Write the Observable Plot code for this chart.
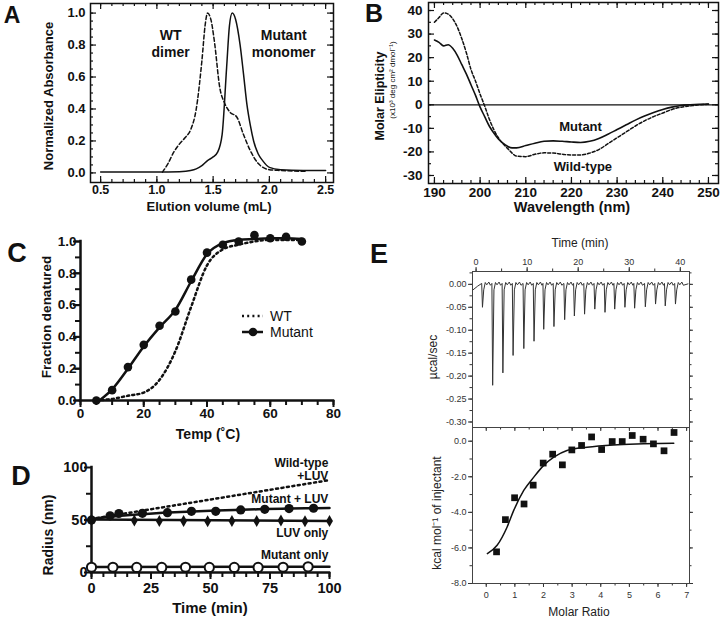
<!DOCTYPE html>
<html><head><meta charset="utf-8">
<script src="https://cdn.jsdelivr.net/npm/d3@7"></script>
<script src="https://cdn.jsdelivr.net/npm/@observablehq/plot@0.6"></script>
<style>
body{margin:0;background:#fff;}
#root{position:relative;width:720px;height:621px;overflow:hidden;background:#fff;}
.p{position:absolute;}
</style></head>
<body><div id="root"></div>
<script>
// ---------- Panel A: size-exclusion chromatography ----------
const aXTicks = [0.5, 1.0, 1.5, 2.0, 2.5];
const aYTicks = [0, 0.2, 0.4, 0.6, 0.8, 1.0];
const aVolMut = [0.5,1.0,1.2,1.3,1.35,1.4,1.45,1.5,1.54,1.58,1.62,1.645,1.67,1.7,1.74,1.77,1.8,1.83,1.86,1.9,1.94,2.0,2.1,2.3,2.5];
const aMut    = [0.005,0.005,0.008,0.015,0.025,0.045,0.077,0.1,0.13,0.24,0.66,0.92,1.0,0.96,0.8,0.62,0.43,0.3,0.2,0.12,0.077,0.035,0.02,0.015,0.015];
const aVolWT  = [1.05,1.1,1.15,1.2,1.25,1.3,1.35,1.4,1.43,1.45,1.48,1.51,1.56,1.6,1.65,1.71,1.77,1.83,1.9,2.0,2.1,2.33];
const aWT     = [0.005,0.06,0.13,0.18,0.22,0.27,0.4,0.7,0.93,1.0,0.96,0.83,0.53,0.44,0.38,0.35,0.24,0.14,0.06,0.02,0.015,0.01];

// ---------- Panel B: circular dichroism ----------
const bXTicks = [190, 200, 210, 220, 230, 240, 250];
const bYTicks = [40, 30, 20, 10, 0, -10, -20, -30];
const bWave = [190,191,192,193,194,195,196,197,198,199,200,201,202,203,204,205,206,207,208,210,212,214,216,218,220,222,224,226,228,230,232,234,236,238,240,242,244,246,248,250];
const bMut  = [27.5,26.5,25,25.5,24,21,17,13,8.5,4,-1,-5,-9,-12,-14.5,-16.3,-17.6,-18.3,-18.3,-17.3,-16.3,-15.5,-15.3,-15.5,-15.8,-16,-15.5,-14.3,-12.5,-10.5,-8.5,-6.5,-4.8,-3.3,-2,-1,-0.3,0,0.2,0.3];
const bWT   = [35,37,39,38.5,36.5,33,28,22,15,10,4.5,-0.5,-6,-10.5,-14,-16.5,-18.5,-20.5,-21.8,-22,-21,-20.4,-20.5,-21,-21.3,-21.3,-20.5,-19,-16.5,-14,-11.5,-9,-6.8,-5,-3.5,-2,-1,-0.5,0,0.2];

// ---------- Panel C: thermal denaturation ----------
const cXTicks = [0, 20, 40, 60, 80];
const cYTicks = [0, 0.2, 0.4, 0.6, 0.8, 1.0];
const cTemp   = [5,10,15,20,25,30,35,40,45,50,55,60,65,70];
const cMutant = [0,0.065,0.21,0.35,0.47,0.56,0.76,0.93,0.98,1.0,1.04,1.02,1.03,1.0];
const cFitTemp = [6,10,15,20,25,30,35,40,45,50,55,60,65,70];
const cMutFit  = [0,0.07,0.2,0.34,0.46,0.57,0.75,0.92,0.99,1.01,1.015,1.02,1.02,1.015];
const cWTTemp  = [5,10,15,20,25,30,35,40,45,50,55,60,65,70];
const cWT      = [0,0.01,0.03,0.05,0.13,0.31,0.59,0.85,0.95,0.98,1.0,1.01,1.01,1.01];

// ---------- Panel D: dynamic light scattering ----------
const dXTicks = [0, 25, 50, 75, 100];
const dYTicks = [0, 50, 100];
const dWTTime = [0, 100];
const dWT     = [51, 88];
const dMutLuvTime = [0, 7.8, 11.5, 21.4, 31.9, 42, 52.2, 62.7, 72.8, 83, 93.3];
const dMutLuv     = [50, 54, 56.2, 56.4, 57, 58.3, 58.3, 59.6, 60.2, 60.9, 61.2];
const dMutLuvFitTime = [0,10,20,30,40,50,60,70,80,90,100];
const dMutLuvFit     = [51,53.5,55.3,56.8,57.9,58.8,59.6,60.2,60.7,61.1,61.4];
const dLuvTime = [0, 18, 28.5, 38.7, 48.8, 59, 69.4, 79.6, 89.7, 100];
const dLuv     = [50, 49.5, 49, 49, 48.8, 49, 49, 49.5, 48.8, 49];
const dLuvFitTime = [0, 100];
const dLuvFit     = [50.5, 49];
const dMutTime = [0, 9, 19, 29.5, 39.5, 49.5, 60, 70, 80.5, 91];
const dMut     = [5, 5, 4.8, 4.8, 5, 4.8, 4.8, 4.8, 5, 5.4];
const dMutFitTime = [0, 100];
const dMutFit     = [5.3, 5.5];

// ---------- Panel E: ITC ----------
const eTimeTicks = [0, 10, 20, 30, 40];
const eRateTicks = [0, -0.05, -0.10, -0.15, -0.20, -0.25, -0.30];
const eInjTime = [1.2,3.2,5.2,7.2,9.3,11.3,13.2,15.2,17.3,19.2,21.2,23.2,25.2,27.1,29.1,31.0,33.1,35.1,37.0,39.0];
const eInjPeak = [-0.05,-0.22,-0.193,-0.155,-0.14,-0.124,-0.098,-0.092,-0.077,-0.069,-0.065,-0.054,-0.061,-0.054,-0.05,-0.052,-0.049,-0.043,-0.047,-0.043];
const eRatioTicks = [0,1,2,3,4,5,6,7];
const eHeatTicks  = [0,-2,-4,-6,-8];
const eRatio = [0.36,0.67,0.99,1.32,1.64,1.99,2.32,2.66,2.99,3.33,3.68,4.03,4.4,4.75,5.1,5.48,5.84,6.21,6.56];
const eHeat  = [-6.22,-4.41,-3.18,-3.53,-2.47,-1.23,-0.73,-1.33,-0.49,-0.24,0.24,-0.47,-0.02,-0.02,0.32,0.11,-0.15,-0.54,0.49];
const eFitRatio = [0.04,0.38,0.73,0.96,1.31,1.66,2.01,2.36,2.82,3.52,4.45,5.5,6.55];
const eFit      = [-6.32,-5.85,-4.82,-3.89,-2.77,-2.02,-1.36,-0.9,-0.52,-0.34,-0.21,-0.15,-0.11];

// ================= drawing =================
const INK = "#111";
const FONT = '"Liberation Sans", Arial, Helvetica, sans-serif';
const root = document.getElementById("root");
const rows = (xs, ys) => xs.map((x, i) => ({x, y: ys[i]}));

function place(node, left, top, w) {
  const d = document.createElement("div");
  d.className = "p";
  d.style.left = left + "px"; d.style.top = top + "px"; d.style.width = w + "px";
  d.appendChild(node); root.appendChild(d);
}
function txt(s, x, y, o = {}) {
  const d = document.createElement("div");
  d.textContent = s;
  Object.assign(d.style, {position: "absolute", left: x + "px", top: y + "px", whiteSpace: "nowrap",
    lineHeight: "1", fontFamily: o.family || FONT, fontSize: (o.size || 13) + "px",
    fontWeight: o.weight || "bold", color: o.color || INK,
    transform: "translate(-50%,-50%)" + (o.rot ? " rotate(-90deg)" : "")});
  root.appendChild(d);
}
// tick helpers: lengths in pixels converted to data units
function tx(vals, dom, innerPx, lenPx, at, dir, o = {}) {
  const L = lenPx / innerPx * (dom[1] - dom[0]);
  const y0 = at === "min" ? dom[0] : dom[1];
  const s = (at === "min" ? 1 : -1) * dir;
  return Plot.ruleX(vals, {x: d => d, y1: y0, y2: y0 + s * L, stroke: o.stroke || INK, strokeWidth: o.sw || 1.2});
}
function ty(vals, dom, innerPx, lenPx, at, dir, o = {}) {
  const L = lenPx / innerPx * (dom[1] - dom[0]);
  const x0 = at === "min" ? dom[0] : dom[1];
  const s = (at === "min" ? 1 : -1) * dir;
  return Plot.ruleY(vals, {y: d => d, x1: x0, x2: x0 + s * L, stroke: o.stroke || INK, strokeWidth: o.sw || 1.2});
}
const rng = (a, b, s) => d3.range(a, b + s / 2, s);
const style = (fs, fw, col) => ({fontFamily: FONT, fontSize: fs + "px", fontWeight: fw, color: col || INK, background: "transparent", overflow: "visible"});

// ---- A ----
{
  const xd = [0.41, 2.57], yd = [-0.06, 1.06], W = 243, H = 179;
  const p = Plot.plot({
    width: 340, height: 215, marginLeft: 90, marginRight: 7, marginTop: 3, marginBottom: 33,
    x: {domain: xd}, y: {domain: yd}, style: style(12.5, "bold"),
    marks: [
      tx(rng(0.5, 2.5, 0.1), yd, H, 3, "min", 1),
      tx(aXTicks, yd, H, 6, "min", 1),
      tx(rng(0.5, 2.5, 0.1), yd, H, 3, "max", 1),
      tx(aXTicks, yd, H, 6, "max", 1),
      ty(rng(0, 1, 0.05), xd, W, 3, "min", 1),
      ty(aYTicks, xd, W, 6, "min", 1),
      ty(rng(0, 1, 0.05), xd, W, 3, "max", 1),
      ty(aYTicks, xd, W, 6, "max", 1),
      Plot.frame({stroke: INK, strokeWidth: 1.5}),
      Plot.axisX({ticks: aXTicks, tickSize: 0, tickPadding: 3, tickFormat: d => d.toFixed(1), label: null, fontSize: 12.5, fontWeight: "bold"}),
      Plot.axisY({ticks: aYTicks, tickSize: 0, tickPadding: 5, tickFormat: d => d.toFixed(1), label: null, fontSize: 13, fontWeight: "bold"}),
      Plot.line(rows(aVolWT, aWT), {x: "x", y: "y", stroke: INK, strokeWidth: 1.5, strokeDasharray: "4,2.5", curve: "monotone-x"}),
      Plot.line(rows(aVolMut, aMut), {x: "x", y: "y", stroke: INK, strokeWidth: 1.5, curve: "monotone-x"}),
      Plot.text([{x: 1.122, y: 0.815, t: "WT\ndimer"}, {x: 2.127, y: 0.815, t: "Mutant\nmonomer"}],
        {x: "x", y: "y", text: "t", fontSize: 14, fontWeight: "bold", lineHeight: 1.25, fill: INK})
    ]
  });
  place(p, 0, 0, 340);
}

// ---- B ----
{
  const xd = [188.7, 252.2], yd = [-33.4, 43.4], W = 290, H = 181;
  const p = Plot.plot({
    width: 360, height: 215, marginLeft: 68, marginRight: 2, marginTop: 2, marginBottom: 32,
    x: {domain: xd}, y: {domain: yd}, style: style(13.5, "bold"),
    marks: [
      tx(rng(190, 250, 2), yd, H, 3, "min", 1), tx(bXTicks, yd, H, 6, "min", 1),
      tx(rng(190, 250, 2), yd, H, 3, "max", 1), tx(bXTicks, yd, H, 6, "max", 1),
      ty(rng(-30, 40, 5), xd, W, 3, "min", 1), ty(bYTicks, xd, W, 6, "min", 1),
      ty(rng(-30, 40, 5), xd, W, 3, "max", 1), ty(bYTicks, xd, W, 6, "max", 1),
      Plot.frame({stroke: INK, strokeWidth: 1.5}),
      Plot.ruleY([0], {stroke: INK, strokeWidth: 1.2}),
      Plot.axisX({ticks: bXTicks, tickSize: 0, tickPadding: 4, tickFormat: d => String(d), label: null, fontSize: 13.5, fontWeight: "bold"}),
      Plot.axisY({ticks: bYTicks, tickSize: 0, tickPadding: 6, tickFormat: d => String(d), label: null, fontSize: 13.5, fontWeight: "bold"}),
      Plot.line(rows(bWave, bWT), {x: "x", y: "y", stroke: INK, strokeWidth: 1.5, strokeDasharray: "3,2", curve: "monotone-x"}),
      Plot.line(rows(bWave, bMut), {x: "x", y: "y", stroke: INK, strokeWidth: 1.6, curve: "monotone-x"}),
      Plot.text([{x: 222, y: -9.2, t: "Mutant"}, {x: 222.5, y: -26.2, t: "Wild-type"}],
        {x: "x", y: "y", text: "t", fontSize: 13, fontWeight: "bold", fill: INK})
    ]
  });
  place(p, 360, 0, 360);
}

// ---- C ----
{
  const xd = [0, 80], yd = [0, 1], W = 253, H = 159;
  const p = Plot.plot({
    width: 360, height: 225, marginLeft: 80, marginRight: 27, marginTop: 26, marginBottom: 40,
    x: {domain: xd}, y: {domain: yd}, style: style(13.5, "bold"),
    marks: [
      tx(rng(0, 80, 5), yd, H, 5, "min", -1, {sw: 2}), tx(cXTicks, yd, H, 7, "min", -1, {sw: 2}),
      ty(rng(0, 1, 0.1), xd, W, 5, "min", -1, {sw: 2}), ty(cYTicks, xd, W, 7, "min", -1, {sw: 2}),
      Plot.ruleY([0], {x1: 0, x2: 80, stroke: INK, strokeWidth: 2.5, strokeLinecap: "square"}),
      Plot.ruleX([0], {y1: 0, y2: 1, stroke: INK, strokeWidth: 2.5, strokeLinecap: "square"}),
      Plot.axisX({ticks: cXTicks, tickSize: 0, tickPadding: 8, tickFormat: d => String(d), label: null, fontSize: 13.5, fontWeight: "bold"}),
      Plot.axisY({ticks: cYTicks, tickSize: 0, tickPadding: 4, tickFormat: d => d.toFixed(1), label: null, fontSize: 13.5, fontWeight: "bold"}),
      Plot.line(rows(cWTTemp, cWT), {x: "x", y: "y", stroke: INK, strokeWidth: 2.5, strokeDasharray: "2,3.2", curve: "monotone-x"}),
      Plot.line(rows(cFitTemp, cMutFit), {x: "x", y: "y", stroke: INK, strokeWidth: 2.5, curve: "monotone-x"}),
      Plot.dot(rows(cTemp, cMutant), {x: "x", y: "y", r: 4.3, fill: INK, stroke: "none"})
    ]
  });
  place(p, 0, 215, 360);
  // legend
  const leg = d3.create("svg").attr("width", 90).attr("height", 40)
    .style("position", "absolute").style("left", "238px").style("top", "306px").style("overflow", "visible");
  leg.append("line").attr("x1", 4).attr("x2", 25).attr("y1", 10).attr("y2", 10)
    .attr("stroke", INK).attr("stroke-width", 2.5).attr("stroke-dasharray", "2,3.2");
  leg.append("line").attr("x1", 4).attr("x2", 25).attr("y1", 26).attr("y2", 26)
    .attr("stroke", INK).attr("stroke-width", 2.5);
  leg.append("circle").attr("cx", 15).attr("cy", 26).attr("r", 4.3).attr("fill", INK);
  [["WT", 10], ["Mutant", 26]].forEach(([t, y]) => leg.append("text").attr("x", 32).attr("y", y)
    .attr("dy", "0.35em").attr("font-family", FONT).attr("font-size", 14).attr("fill", INK).text(t));
  root.appendChild(leg.node());
}

// ---- D ----
{
  const xd = [0, 100], yd = [0, 100], W = 238, H = 105;
  const p = Plot.plot({
    width: 360, height: 181, marginLeft: 91, marginRight: 31, marginTop: 27, marginBottom: 49,
    x: {domain: xd}, y: {domain: yd}, style: style(14.5, "bold"),
    marks: [
      tx(rng(0, 100, 5), yd, H, 5, "min", -1, {sw: 2}), tx(dXTicks, yd, H, 7, "min", -1, {sw: 2}),
      ty([25, 75], xd, W, 5, "min", -1, {sw: 2}), ty(dYTicks, xd, W, 7, "min", -1, {sw: 2}),
      Plot.ruleY([0], {x1: 0, x2: 100, stroke: INK, strokeWidth: 2.5, strokeLinecap: "square"}),
      Plot.ruleX([0], {y1: 0, y2: 100, stroke: INK, strokeWidth: 2.5, strokeLinecap: "square"}),
      Plot.axisX({ticks: dXTicks, tickSize: 0, tickPadding: 10, tickFormat: d => String(d), label: null, fontSize: 14.5, fontWeight: "bold"}),
      Plot.axisY({ticks: dYTicks, tickSize: 0, tickPadding: 4, tickFormat: d => String(d), label: null, fontSize: 14.5, fontWeight: "bold"}),
      Plot.line(rows(dWTTime, dWT), {x: "x", y: "y", stroke: INK, strokeWidth: 2.5, strokeDasharray: "2,3.5"}),
      Plot.line(rows(dLuvFitTime, dLuvFit), {x: "x", y: "y", stroke: INK, strokeWidth: 2.5}),
      Plot.line(rows(dMutLuvFitTime, dMutLuvFit), {x: "x", y: "y", stroke: INK, strokeWidth: 2.5, curve: "monotone-x"}),
      Plot.line(rows(dMutFitTime, dMutFit), {x: "x", y: "y", stroke: INK, strokeWidth: 2.5}),
      Plot.dot(rows(dLuvTime, dLuv), {x: "x", y: "y", symbol: "diamond", r: 3.6, fill: INK, stroke: "none"}),
      Plot.dot(rows(dMutLuvTime, dMutLuv), {x: "x", y: "y", r: 4.6, fill: INK, stroke: "none"}),
      Plot.dot(rows(dMutTime, dMut), {x: "x", y: "y", r: 4.6, fill: "white", stroke: INK, strokeWidth: 2}),
      Plot.text([
        {x: 99.5, y: 98.6, t: "Wild-type\n+LUV"},
        {x: 99.5, y: 70.5, t: "Mutant + LUV"},
        {x: 99.5, y: 38, t: "LUV only"},
        {x: 99.5, y: 17, t: "Mutant only"}
      ], {x: "x", y: "y", text: "t", textAnchor: "end", fontSize: 12, fontWeight: "bold", lineHeight: 1.1, fill: INK})
    ]
  });
  place(p, 0, 440, 360);
}

// ---- E (top: raw heat) ----
{
  const xd = [-0.7, 41.8], yd = [-0.312, 0.028], W = 217, H = 156, G = "#333";
  const trace = [{x: -0.6, y: -0.012}, {x: 0.3, y: -0.004}];
  eInjTime.forEach((t, i) => {
    trace.push({x: t - 0.1, y: 0.002}, {x: t + 0.05, y: eInjPeak[i]}, {x: t + 0.3, y: -0.012},
      {x: t + 0.6, y: 0.004}, {x: t + 0.9, y: -0.001}, {x: t + 1.3, y: 0.005}, {x: t + 1.6, y: -0.002});
  });
  trace.push({x: 41.5, y: 0.001});
  const p = Plot.plot({
    width: 360, height: 197, marginLeft: 112, marginRight: 31, marginTop: 41, marginBottom: 0,
    x: {domain: xd}, y: {domain: yd}, style: style(9, "normal", G),
    marks: [
      tx(rng(0, 40, 5), yd, H, 2.5, "max", -1, {stroke: G, sw: 1}), tx(eTimeTicks, yd, H, 4, "max", -1, {stroke: G, sw: 1}),
      ty(rng(-0.3, 0.025, 0.025), xd, W, 2.5, "min", -1, {stroke: G, sw: 1}), ty(eRateTicks, xd, W, 4, "min", -1, {stroke: G, sw: 1}),
      ty(rng(-0.3, 0.025, 0.025), xd, W, 2.5, "max", -1, {stroke: G, sw: 1}), ty(eRateTicks, xd, W, 4, "max", -1, {stroke: G, sw: 1}),
      Plot.frame({stroke: "#444", strokeWidth: 1}),
      Plot.axisX({anchor: "top", ticks: eTimeTicks, tickSize: 0, tickPadding: 7, tickFormat: d => String(d), label: null, fontSize: 9, fill: G}),
      Plot.axisY({ticks: eRateTicks, tickSize: 0, tickPadding: 6, tickFormat: d => d.toFixed(2), label: null, fontSize: 9, fill: G}),
      Plot.line(trace, {x: "x", y: "y", stroke: "#333", strokeWidth: 1})
    ]
  });
  place(p, 360, 230, 360);
}

// ---- E (bottom: integrated heats) ----
{
  const xd = [-0.48, 7.1], yd = [-8, 0.77], W = 217, H = 156, G = "#333";
  const p = Plot.plot({
    width: 360, height: 194, marginLeft: 112, marginRight: 31, marginTop: 0, marginBottom: 38,
    x: {domain: xd}, y: {domain: yd}, style: style(9, "normal", G),
    marks: [
      tx(rng(0, 7, 0.5), yd, H, 2.5, "min", -1, {stroke: G, sw: 1}), tx(eRatioTicks, yd, H, 4, "min", -1, {stroke: G, sw: 1}),
      tx(rng(0, 7, 0.5), yd, H, 2.5, "max", 1, {stroke: G, sw: 1}), tx(eRatioTicks, yd, H, 4, "max", 1, {stroke: G, sw: 1}),
      ty(rng(-8, 0, 1), xd, W, 2.5, "min", -1, {stroke: G, sw: 1}), ty(eHeatTicks, xd, W, 4, "min", -1, {stroke: G, sw: 1}),
      ty(rng(-8, 0, 1), xd, W, 2.5, "max", -1, {stroke: G, sw: 1}), ty(eHeatTicks, xd, W, 4, "max", -1, {stroke: G, sw: 1}),
      Plot.frame({stroke: "#444", strokeWidth: 1}),
      Plot.axisX({ticks: eRatioTicks, tickSize: 0, tickPadding: 8, tickFormat: d => String(d), label: null, fontSize: 9, fill: G}),
      Plot.axisY({ticks: eHeatTicks, tickSize: 0, tickPadding: 6, tickFormat: d => d.toFixed(1), label: null, fontSize: 9, fill: G}),
      Plot.line(rows(eFitRatio, eFit), {x: "x", y: "y", stroke: INK, strokeWidth: 1.5, curve: "monotone-x"}),
      Plot.dot(rows(eRatio, eHeat), {x: "x", y: "y", symbol: "square", r: 3.8, fill: INK, stroke: "none"})
    ]
  });
  place(p, 360, 427, 360);
}

// ---------- titles & panel letters ----------
txt("A", 12, 15, {size: 23});
txt("B", 374, 13, {size: 25});
txt("C", 17, 253, {size: 27});
txt("D", 21, 476, {size: 27});
txt("E", 379, 254, {size: 27});

txt("Normalized Absorbance", 48, 96, {size: 13, rot: true});
txt("Elution volume (mL)", 209, 206, {size: 13});

txt("Molar Elipticity", 380, 96, {size: 12.5, rot: true});
txt("(x10³ deg cm² dmol⁻¹)", 393, 80, {size: 8, weight: "normal", rot: true});
txt("Wavelength (nm)", 572, 207, {size: 14.5});

txt("Fraction denatured", 47, 317, {size: 13.5, rot: true});
txt("Temp (˚C)", 208, 434, {size: 14});

txt("Radius (nm)", 48, 535, {size: 14, rot: true});
txt("Time (min)", 210, 607, {size: 15});

txt("Time (min)", 580, 243, {size: 12, weight: "normal", color: "#222"});
txt("µcal/sec", 433, 357, {size: 12, weight: "normal", color: "#222", rot: true});
txt("kcal mol⁻¹ of injectant", 437, 513, {size: 12, weight: "normal", color: "#222", rot: true});
txt("Molar Ratio", 579, 612, {size: 12, weight: "normal", color: "#222"});
</script>
</body></html>
